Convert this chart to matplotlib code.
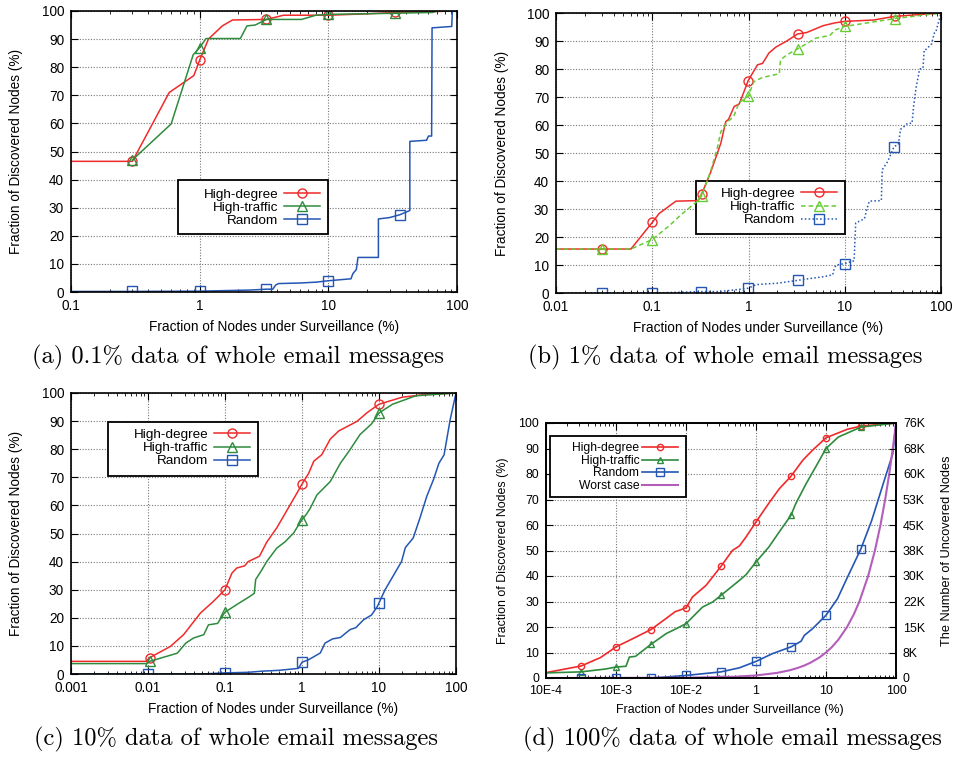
import numpy as np
import matplotlib
matplotlib.use("Agg")
import matplotlib.pyplot as plt
from matplotlib.patches import Rectangle
from matplotlib.ticker import NullLocator
from matplotlib.transforms import ScaledTranslation

plt.rcParams['font.family'] = ['Liberation Sans', 'DejaVu Sans']

RED = '#f02a2a'
GREEN = '#2e8b3e'
LGREEN = '#66cc33'
BLUE = '#2456b4'
PURPLE = '#b35ebb'

# ---- (a) 0.1% data ----
a_hd_x = [0.1, 0.3, 0.58, 0.9, 1.0, 1.17, 1.5, 1.8, 3.3, 4.5, 10, 20, 33, 100]
a_hd_y = [46.5, 46.5, 71, 77, 82.5, 90, 94.7, 96.8, 97, 98.5, 98.5, 99, 99.5, 100]
a_ht_x = [0.3, 0.6, 0.89, 1.0, 1.12, 2.07, 2.33, 2.7, 3.3, 6.2, 8, 10, 33, 65, 70, 100]
a_ht_y = [47, 59.8, 84.4, 87, 90.2, 90.2, 94.7, 95, 97, 97, 98.5, 98.8, 99.2, 99.5, 100, 100]
a_rn_x = [0.1, 0.3, 1.0, 2.5, 3.3, 3.7, 3.9, 4.1, 6, 8, 10, 15, 15.5, 16.5, 17,
          24.5, 24.5, 30, 36, 43, 43, 58, 60, 63.5, 64, 91, 92, 100]
a_rn_y = [0.2, 0.2, 0.3, 0.7, 1.0, 1.0, 2.5, 3.0, 3.2, 3.5, 4.0, 4.7, 6.5, 8, 12.3,
          12.3, 26, 26.5, 27.5, 29, 53.6, 54, 55.5, 55.5, 94, 94.5, 100, 100]
a_marks = [0.3, 1.0, 3.3, 10, 33]
a_rn_marks = [0.3, 1.0, 3.3, 10, 36]

# ---- (b) 1% data ----
b_hd_x = [0.01, 0.03, 0.06, 0.1, 0.118, 0.176, 0.3, 0.325, 0.406, 0.516, 0.58, 0.62, 0.71,
          0.8, 0.9, 0.99, 1.24, 1.4, 1.63, 1.92, 2.5, 3.23, 4, 6, 8, 10, 20, 33, 100]
b_hd_y = [15.7, 15.7, 15.7, 25.2, 28.4, 32.8, 33, 35.2, 43.3, 53.5, 61.2, 62, 66.6,
          67.5, 72, 75.8, 81.5, 82, 85.7, 87.8, 90, 92.5, 93, 95.5, 96.5, 97, 97.5, 98.8, 100]
b_ht_x = [0.01, 0.03, 0.06, 0.1, 0.15, 0.2, 0.3, 0.325, 0.4, 0.476, 0.516, 0.6, 0.7, 0.8,
          0.99, 1.14, 1.4, 2.09, 2.15, 2.5, 3.23, 4, 5, 7, 8, 10, 33, 100]
b_ht_y = [15.7, 15.7, 15.7, 19.1, 24, 28, 33, 34.6, 43, 52, 57.6, 61, 63, 68,
          70.2, 75.5, 77, 78.3, 83.3, 85, 87.2, 89, 91, 92, 94, 95.2, 98, 100]
b_rn_x = [0.01, 0.03, 0.1, 0.32, 0.5, 0.8, 0.99, 1.2, 2, 3.23, 4, 6, 7.5, 7.8, 8.2, 10,
          12.5, 13, 16, 17, 18, 24, 24.5, 28, 32.5, 36, 38, 40, 45, 50, 52, 55, 60, 65,
          67, 70, 80, 85, 88, 100]
b_rn_y = [0, 0, 0, 0.5, 0.5, 1.3, 1.7, 3, 3.5, 4.5, 5, 5.8, 6.5, 9, 10, 10.5,
          11.5, 25, 26.5, 30, 32.8, 33, 44, 47, 52.3, 53, 58.5, 59, 60.6, 60.6, 67, 73.2, 80, 80.3,
          86.9, 87, 89, 92.8, 93, 100]
b_marks = [0.03, 0.1, 0.325, 0.99, 3.23, 10, 33]
b_rn_marks = [0.03, 0.1, 0.32, 0.99, 3.23, 10, 32.5]

# ---- (c) 10% data ----
c_hd_x = [0.001, 0.0095, 0.0105, 0.0195, 0.029, 0.048, 0.071, 0.1, 0.123, 0.142, 0.18, 0.2,
          0.28, 0.35, 0.47, 0.6, 0.86, 1.0, 1.22, 1.42, 1.8, 2.33, 3, 5.18, 7, 10, 20, 40, 100]
c_hd_y = [4.5, 4.5, 5.8, 9.8, 14, 21.7, 25.9, 30, 35.9, 37.7, 38.5, 40,
          41.9, 47, 52, 57, 64.4, 67.6, 71.4, 75.7, 78, 83.6, 86.5, 89.9, 93, 96, 98.5, 99.5, 100]
c_ht_x = [0.001, 0.0095, 0.0105, 0.024, 0.031, 0.039, 0.053, 0.061, 0.08, 0.1, 0.142, 0.21,
          0.24, 0.25, 0.3, 0.35, 0.47, 0.6, 0.78, 0.9, 1.0, 1.15, 1.28, 1.56, 2.33, 3.15,
          4.2, 5.66, 8, 10, 15, 30, 100]
c_ht_y = [3.7, 3.7, 4.5, 7.4, 11, 12.8, 14, 17.5, 18, 22, 24.7, 27.6,
          28.7, 33.6, 37, 40.1, 44.8, 47, 50.2, 53, 54.9, 57, 59, 63.7, 68.5, 75,
          79.8, 85.2, 89, 92.9, 96, 99, 100]
c_rn_x = [0.001, 0.01, 0.05, 0.1, 0.2, 0.3, 0.5, 0.7, 0.9, 1.0, 1.2, 1.5, 1.73, 1.99, 2.5,
          3.15, 4.2, 5, 6.3, 8, 9.5, 10, 12, 15.2, 19.6, 22, 27.8, 34, 41.7, 51, 60, 70, 84, 100]
c_rn_y = [0, 0, 0, 0.4, 0.6, 1.0, 1.3, 1.7, 2.0, 4.2, 5, 6.5, 7.5, 11, 12.5,
          13, 15.8, 16.5, 19.3, 21, 24, 25.3, 30, 34.8, 40, 45, 48.4, 55.5, 63.2, 69.2, 75, 78, 90.5, 100]
c_marks = [0.0105, 0.1, 1.0, 10]
c_rn_marks = [0.01, 0.1, 1.0, 10]

# ---- (d) 100% data ----
d_hd_x = [0.001, 0.00316, 0.006, 0.01, 0.0173, 0.0316, 0.05, 0.07, 0.1, 0.124, 0.193, 0.24,
          0.316, 0.46, 0.58, 0.72, 1, 1.53, 2.15, 3.16, 4.66, 6.4, 10, 20, 31.6, 100]
d_hd_y = [2.1, 4.7, 8, 12.2, 15.4, 19, 23, 26, 27.5, 31.8, 36.3, 39.6,
          43.8, 50, 51.8, 55.3, 61.2, 68.6, 74.2, 79.1, 85.4, 89.3, 94.2, 97.5, 98.8, 100]
d_ht_x = [0.001, 0.00316, 0.007, 0.01, 0.0139, 0.0155, 0.019, 0.0316, 0.052, 0.072, 0.1,
          0.172, 0.24, 0.316, 0.58, 0.72, 1, 1.53, 2.15, 3.16, 3.7, 5.2, 7.2, 10, 15, 31.6, 100]
d_ht_y = [2.0, 2.4, 3.5, 4.3, 4.6, 8.2, 8.5, 13.2, 17.4, 19.3, 21.3,
          27.8, 29.8, 32.4, 38.3, 40.5, 45.5, 51.4, 57.3, 63.8, 68.4, 76.2, 83, 90, 94.5, 98.4, 100]
d_rn_x = [0.001, 0.00316, 0.01, 0.0316, 0.052, 0.1, 0.316, 0.58, 1, 1.7, 3.16, 4.4, 4.9,
          6.4, 10, 14.6, 19.3, 31.6, 45, 68, 90, 100]
d_rn_y = [0, 0, 0, 0, 0.4, 1.0, 2.4, 4, 6.5, 9.5, 12.2, 14.4, 16.7,
          19.3, 24.6, 31.1, 38.3, 50.7, 61.8, 77.5, 88, 100]
d_wc_x = [0.001, 0.1, 0.5, 1, 2, 3, 4, 5, 6, 8, 10, 12, 15, 20, 25, 30, 40, 50, 60, 70, 80, 90, 100]
d_wc_y = [0.001, 0.1, 0.5, 1, 2, 3, 4, 5, 6, 8, 10, 12, 15, 20, 25, 30, 40, 50, 60, 70, 80, 90, 100]
d_marks = [0.00316, 0.01, 0.0316, 0.1, 0.316, 1, 3.16, 10, 31.6]
d_right_labels = ['0', '8K', '15K', '22K', '30K', '38K', '45K', '53K', '60K', '68K', '76K']

captions = ['(a) 0.1% data of whole email messages',
            '(b) 1% data of whole email messages',
            '(c) 10% data of whole email messages',
            '(d) 100% data of whole email messages']

XLAB = 'Fraction of Nodes under Surveillance (%)'
YLAB = 'Fraction of Discovered Nodes (%)'

fig = plt.figure(figsize=(9.58, 7.58), dpi=100)


def axes_px(l, t, r, b):
    return fig.add_axes([l / 958, 1 - b / 758, (r - l) / 958, (b - t) / 758])


def idx(xs, marks):
    lx = np.log10(np.asarray(xs, dtype=float))
    return [int(np.argmin(np.abs(lx - np.log10(m)))) for m in marks]


def setup(ax, xticks, xlabels, fs, yl_x, shift):
    ax.set_xscale('log')
    ax.set_xlim(xticks[0], xticks[-1])
    ax.set_ylim(0, 100)
    ax.set_xticks(xticks)
    ax.set_xticklabels(xlabels)
    ax.set_yticks(range(0, 101, 10))
    ax.yaxis.set_minor_locator(NullLocator())
    ax.grid(True, which='major', color='#777777', linestyle=(0, (1, 1.5)), linewidth=0.8)
    ax.set_axisbelow(True)
    ax.tick_params(which='both', direction='in', top=True, right=True, labelsize=fs, pad=5)
    ax.tick_params(which='major', length=5, width=0.8)
    ax.tick_params(which='minor', length=2.5, width=0.6)
    for s in ax.spines.values():
        s.set_linewidth(1.2)
    ax.set_xlabel(XLAB, fontsize=fs)
    ax.set_ylabel(YLAB, fontsize=fs)
    ax.xaxis.set_label_coords(0.525, -0.10)
    ax.yaxis.set_label_coords(yl_x, 0.5)
    if shift:
        lab = ax.xaxis.get_major_ticks()[0].label1
        lab.set_transform(lab.get_transform() + ScaledTranslation(shift / 100, 0, fig.dpi_scale_trans))


def key(ax, box, anchor, fs, hl, htp):
    l, b, r, t = box
    ax.add_patch(Rectangle((l, b), r - l, t - b, transform=ax.transAxes, facecolor='white',
                           edgecolor='black', linewidth=1.3, zorder=1.5))
    ax.legend(loc='center right', bbox_to_anchor=anchor, frameon=False, markerfirst=False,
              fontsize=fs, handlelength=hl, handletextpad=htp, labelspacing=0.05,
              borderaxespad=0, borderpad=0)


lw = 1.1
ms = 6.5
fs = 9.8

# (a)
ax = axes_px(71, 11, 457, 292)
ax.plot(a_hd_x, a_hd_y, color=RED, lw=lw, marker='o', mfc='none', ms=ms,
        markevery=idx(a_hd_x, a_marks), label='High-degree')
ax.plot(a_ht_x, a_ht_y, color=GREEN, lw=lw, marker='^', mfc='none', ms=ms,
        markevery=idx(a_ht_x, a_marks), label='High-traffic')
ax.plot(a_rn_x, a_rn_y, color=BLUE, lw=lw, marker='s', mfc='none', ms=ms,
        markevery=idx(a_rn_x, a_rn_marks), label='Random')
setup(ax, [0.1, 1, 10, 100], ['0.1', '1', '10', '100'], fs, -0.124, 0.08)
key(ax, (0.277, 0.206, 0.666, 0.399), (0.645, 0.301), 9.7, 2.7, 0.4)

# (b)
ax = axes_px(556, 13, 941, 293)
ax.plot(b_hd_x, b_hd_y, color=RED, lw=lw, marker='o', mfc='none', ms=ms,
        markevery=idx(b_hd_x, b_marks), label='High-degree')
ax.plot(b_ht_x, b_ht_y, color=LGREEN, lw=lw, ls=(0, (3, 2)), marker='^', mfc='none', ms=ms,
        markevery=idx(b_ht_x, b_marks), label='High-traffic')
ax.plot(b_rn_x, b_rn_y, color=BLUE, lw=lw, ls=(0, (1, 1.5)), marker='s', mfc='none', ms=ms,
        markevery=idx(b_rn_x, b_rn_marks), label='Random')
setup(ax, [0.01, 0.1, 1, 10, 100], ['0.01', '0.1', '1', '10', '100'], fs, -0.122, 0.04)
key(ax, (0.364, 0.211, 0.751, 0.4), (0.73, 0.307), 9.7, 2.7, 0.4)

# (c)
ax = axes_px(71, 393, 456, 674)
ax.plot(c_hd_x, c_hd_y, color=RED, lw=lw, marker='o', mfc='none', ms=ms,
        markevery=idx(c_hd_x, c_marks), label='High-degree')
ax.plot(c_ht_x, c_ht_y, color=GREEN, lw=lw, marker='^', mfc='none', ms=ms,
        markevery=idx(c_ht_x, c_marks), label='High-traffic')
ax.plot(c_rn_x, c_rn_y, color=BLUE, lw=lw, marker='s', mfc='none', ms=ms,
        markevery=idx(c_rn_x, c_rn_marks), label='Random')
setup(ax, [0.001, 0.01, 0.1, 1, 10, 100], ['0.001', '0.01', '0.1', '1', '10', '100'], fs, -0.124, 0.08)
key(ax, (0.096, 0.705, 0.486, 0.897), (0.465, 0.804), 9.7, 2.7, 0.4)

# (d)
ms_d = 4.5
fs_d = 8.9
ax = axes_px(546, 423, 896, 678)
ax.plot(d_hd_x, d_hd_y, color=RED, lw=1.2, marker='o', mfc='none', ms=ms_d,
        markevery=idx(d_hd_x, d_marks), label='High-degree')
ax.plot(d_ht_x, d_ht_y, color=GREEN, lw=1.2, marker='^', mfc='none', ms=ms_d,
        markevery=idx(d_ht_x, d_marks), label='High-traffic')
ax.plot(d_rn_x, d_rn_y, color=BLUE, lw=1.2, marker='s', mfc='none', ms=ms_d + 1,
        markevery=idx(d_rn_x, d_marks), label='Random')
ax.plot(d_wc_x, d_wc_y, color=PURPLE, lw=1.5, label='Worst case')
setup(ax, [0.001, 0.01, 0.1, 1, 10, 100], ['10E-4', '10E-3', '10E-2', '1', '10', '100'], fs_d, -0.106, 0)
ax.tick_params(which='both', right=False)
key(ax, (0.011, 0.71, 0.4, 0.949), (0.377, 0.827), 8.7, 3.0, 0.2)
ax2 = ax.twinx()
ax2.set_ylim(0, 100)
ax2.set_yticks(range(0, 101, 10))
ax2.set_yticklabels(d_right_labels)
ax2.tick_params(direction='in', length=5, width=0.8, labelsize=fs_d, pad=5)
ax2.set_ylabel('The Number of Uncovered Nodes', fontsize=9.2)
ax2.yaxis.set_label_coords(1.128, 0.5)
for s in ax2.spines.values():
    s.set_linewidth(1.2)

# captions
for (cx, cy), txt in zip([(238, 357), (725, 357), (236, 739), (732, 739)], captions):
    fig.text(cx / 958, 1 - cy / 758, txt, family='cmr10', fontsize=17.6, ha='center', va='center')

fig.savefig('out.png', dpi=100)
